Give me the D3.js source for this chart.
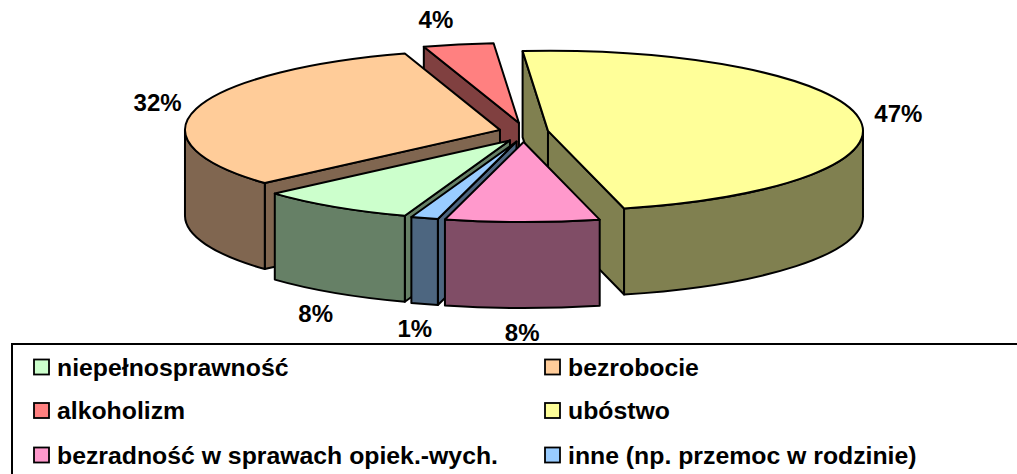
<!DOCTYPE html>
<html>
<head>
<meta charset="utf-8">
<script src="https://cdn.jsdelivr.net/npm/d3@7"></script>
<style>
  html, body { margin: 0; padding: 0; background: #fff; }
  svg { display: block; }
  text { font-family: "Liberation Sans", Arial, sans-serif; font-weight: bold; fill: #000; }
</style>
</head>
<body>
<div id="chart"></div>
<script>
// Values (labels are rounded percentages)
const categories = [
  "niepełnosprawność",
  "bezrobocie",
  "alkoholizm",
  "ubóstwo",
  "bezradność w sprawach opiek.-wych.",
  "inne (np. przemoc w rodzinie)"
];
const values = [8.0, 31.7, 3.6, 47.4, 7.9, 1.4];
const topColors = ["#CCFFCC", "#FFCC99", "#FF8080", "#FFFF99", "#FF99CC", "#99CCFF"];
const sideColors = ["#668066", "#806650", "#804040", "#808050", "#804D66", "#4D6680"];

(function () {
  const WIDTH = 1017;
  const HEIGHT = 474;

  // pie geometry
  const CX = 523.7, CY = 132.4;
  const RX = 315, RY = 80;
  const DEPTH = 86;
  const EXPLODE_X = 24.6, EXPLODE_Y = 9.6;
  const FIRST_ANGLE = 199.5; // degrees, clockwise from 12 o'clock
  const LABEL_GAP = 16;

  const TAU = Math.PI * 2;
  const rad = (deg) => deg * Math.PI / 180;
  const mod = (a) => ((a % TAU) + TAU) % TAU;

  const svg = d3.select("#chart").append("svg")
    .attr("width", WIDTH)
    .attr("height", HEIGHT);

  const pie = d3.pie()
    .sort(null)
    .value((d) => d.value)
    .startAngle(rad(FIRST_ANGLE))
    .endAngle(rad(FIRST_ANGLE) + TAU);

  const slices = pie(values.map((v, i) => ({ value: v, i: i }))).map((s) => {
    const mid = (s.startAngle + s.endAngle) / 2;
    s.mid = mid;
    s.vertex = [CX + EXPLODE_X * Math.sin(mid), CY - EXPLODE_Y * Math.cos(mid)];
    return s;
  });

  function rim(v, a, dy = 0) {
    return [v[0] + RX * Math.sin(a), v[1] - RY * Math.cos(a) + dy];
  }
  const p = (pt) => pt[0].toFixed(2) + "," + pt[1].toFixed(2);

  function topPath(s) {
    const v = s.vertex, a0 = s.startAngle, a1 = s.endAngle;
    const large = (a1 - a0) > Math.PI ? 1 : 0;
    return `M${p(v)}L${p(rim(v, a0))}A${RX},${RY} 0 ${large} 1 ${p(rim(v, a1))}Z`;
  }

  function outerWalls(s) {
    const v = s.vertex, paths = [];
    for (let k = -1; k <= 2; k++) {
      const lo = Math.max(s.startAngle, Math.PI / 2 + TAU * k);
      const hi = Math.min(s.endAngle, Math.PI * 1.5 + TAU * k);
      if (hi - lo > 1e-6) {
        paths.push(`M${p(rim(v, lo))}A${RX},${RY} 0 0 1 ${p(rim(v, hi))}` +
          `L${p(rim(v, hi, DEPTH))}A${RX},${RY} 0 0 0 ${p(rim(v, lo, DEPTH))}Z`);
      }
    }
    return paths;
  }

  function radialWall(s, a) {
    const v = s.vertex;
    const vb = [v[0], v[1] + DEPTH];
    return `M${p(v)}L${p(rim(v, a))}L${p(rim(v, a, DEPTH))}L${p(vb)}Z`;
  }

  // back slices first
  const order = slices.slice().sort((a, b) => Math.cos(b.mid) - Math.cos(a.mid));

  const pieGroup = svg.append("g").attr("class", "pie");
  order.forEach((s) => {
    const g = pieGroup.append("g")
      .attr("stroke", "#000")
      .attr("stroke-width", 2)
      .attr("stroke-linejoin", "round");
    const side = sideColors[s.data.i];
    const a0 = mod(s.startAngle), a1 = mod(s.endAngle);
    if (a0 > Math.PI) {
      g.append("path").attr("d", radialWall(s, s.startAngle)).attr("fill", side);
    }
    if (a1 > 0 && a1 < Math.PI) {
      g.append("path").attr("d", radialWall(s, s.endAngle)).attr("fill", side);
    }
    outerWalls(s).forEach((d) => g.append("path").attr("d", d).attr("fill", side));
    g.append("path").attr("d", topPath(s)).attr("fill", topColors[s.data.i]);
  });

  // percentage labels outside each slice
  const labels = svg.append("g").attr("class", "labels");
  slices.forEach((s) => {
    const sx = Math.sin(s.mid), sy = -Math.cos(s.mid);
    const front = sy > 0 ? DEPTH : 0;
    const base = rim(s.vertex, s.mid, front);
    const t = labels.append("text")
      .attr("font-size", 24)
      .attr("text-anchor", "middle")
      .text(Math.round(s.data.value) + "%");
    const w = t.node().getComputedTextLength();
    const h = 18;
    // labels near the top sit a little to the left of the slice in the original
    const lean = sy < -0.9 ? -16 : 0;
    const x = base[0] + sx * (LABEL_GAP + w / 2) + lean;
    const y = base[1] + sy * (LABEL_GAP + h / 2);
    t.attr("x", x).attr("y", y + 8.5);
  });

  // legend
  const legend = svg.append("g").attr("class", "legend");
  legend.append("rect")
    .attr("x", 12).attr("y", 344)
    .attr("width", WIDTH + 20).attr("height", 200)
    .attr("fill", "#fff")
    .attr("stroke", "#000")
    .attr("stroke-width", 2);

  const colX = [34, 545];
  const rowY = [367, 410.5, 455];
  categories.forEach((name, i) => {
    const x = colX[i % 2];
    const y = rowY[Math.floor(i / 2)];
    legend.append("rect")
      .attr("x", x).attr("y", y - 7.5)
      .attr("width", 15).attr("height", 15)
      .attr("fill", topColors[i])
      .attr("stroke", "#000")
      .attr("stroke-width", 1.8);
    legend.append("text")
      .attr("x", x + 23)
      .attr("y", y + 8.5)
      .attr("font-size", 24.8)
      .text(name);
  });
})();
</script>
</body>
</html>
